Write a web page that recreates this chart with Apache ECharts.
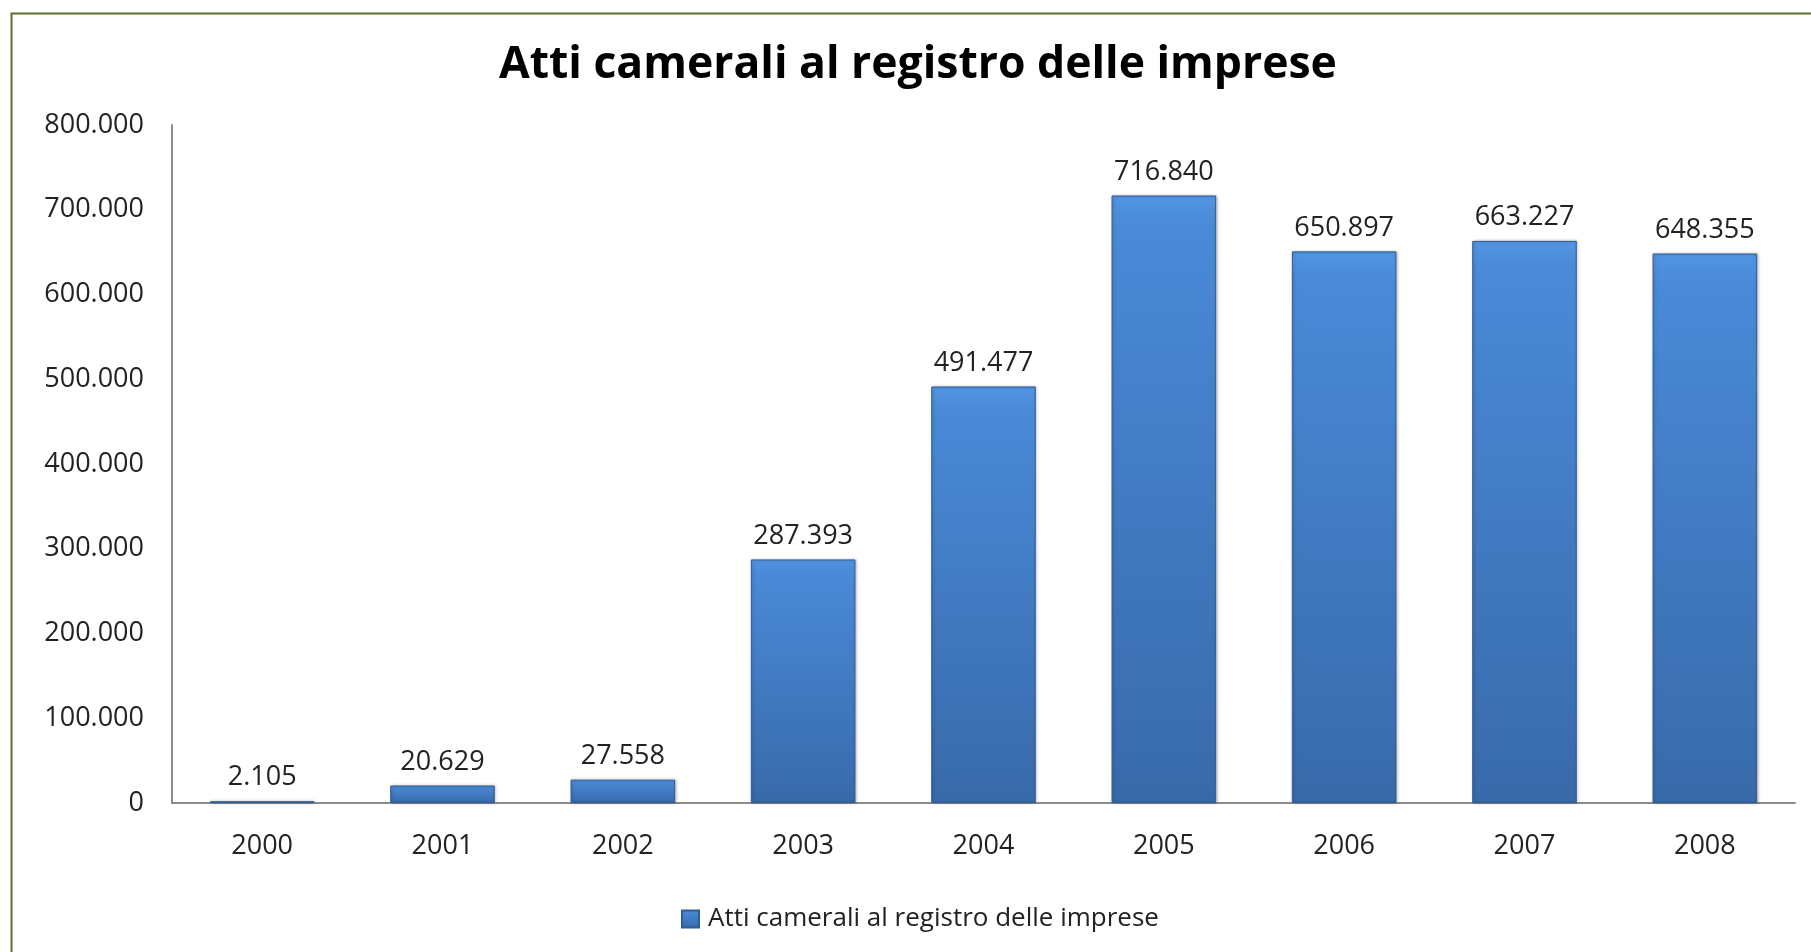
<!DOCTYPE html>
<html>
<head>
<meta charset="utf-8">
<script src="https://cdn.jsdelivr.net/npm/echarts@6/dist/echarts.min.js"></script>
<style>
html,body{margin:0;padding:0;background:#fff;}
#chart{width:1811px;height:952px;}
</style>
</head>
<body>
<div id="chart"></div>
<script>
const titleText = 'Atti camerali al registro delle imprese';
const seriesName = 'Atti camerali al registro delle imprese';
const categories = ['2000','2001','2002','2003','2004','2005','2006','2007','2008'];
const values = [2105, 20629, 27558, 287393, 491477, 716840, 650897, 663227, 648355];
const yMin = 0, yMax = 800000, yStep = 100000;

function fmt(v){ return String(v).replace(/\B(?=(\d{3})+(?!\d))/g, '.'); }

const FONT = '"Open Sans", sans-serif';
const chart = echarts.init(document.getElementById('chart'));
const barColor = new echarts.graphic.LinearGradient(0,0,0,1,[
  {offset:0, color:'#5295e2'},
  {offset:0.05, color:'#4a8ad8'},
  {offset:1, color:'#386aaa'}
]);
chart.setOption({
  animation:false,
  backgroundColor:'#fff',
  title:{
    text:titleText, left:494, top:38,
    textStyle:{fontFamily:FONT, fontWeight:'bold', fontSize:44.5, color:'#000'}
  },
  legend:{
    bottom:15, left:676,
    icon:'rect', itemWidth:17, itemHeight:17, itemGap:8,
    textStyle:{fontFamily:FONT, fontSize:26, color:'#222', padding:[0,0,0,4]},
    data:[seriesName]
  },
  grid:{left:172, right:16, top:125, bottom:149, containLabel:false},
  xAxis:{
    type:'category', data:categories,
    axisLine:{lineStyle:{color:'#8c8c8c', width:2}},
    axisTick:{show:false},
    axisLabel:{fontFamily:FONT, fontSize:27, color:'#222', margin:30}
  },
  yAxis:{
    type:'value', min:yMin, max:yMax, interval:yStep,
    axisLine:{show:true, lineStyle:{color:'#8c8c8c', width:2}},
    axisTick:{show:false},
    splitLine:{show:false},
    axisLabel:{fontFamily:FONT, fontSize:27, color:'#222', margin:28, formatter:fmt}
  },
  graphic:[{
    type:'rect', left:9, top:11, z:100, silent:true,
    shape:{width:1900, height:1000},
    style:{fill:'none', stroke:'#5b6e2e', lineWidth:2}
  }],
  series:[{
    name:seriesName, type:'bar', data:values,
    barWidth:'58%',
    itemStyle:{color:barColor, borderColor:'#2f5d93', borderWidth:1,
      shadowColor:'rgba(0,0,0,0.25)', shadowBlur:3, shadowOffsetX:1},
    label:{show:true, position:'top', distance:10, formatter:p=>fmt(p.value),
      fontFamily:FONT, fontSize:27, color:'#222'}
  }]
});
</script>
</body>
</html>
